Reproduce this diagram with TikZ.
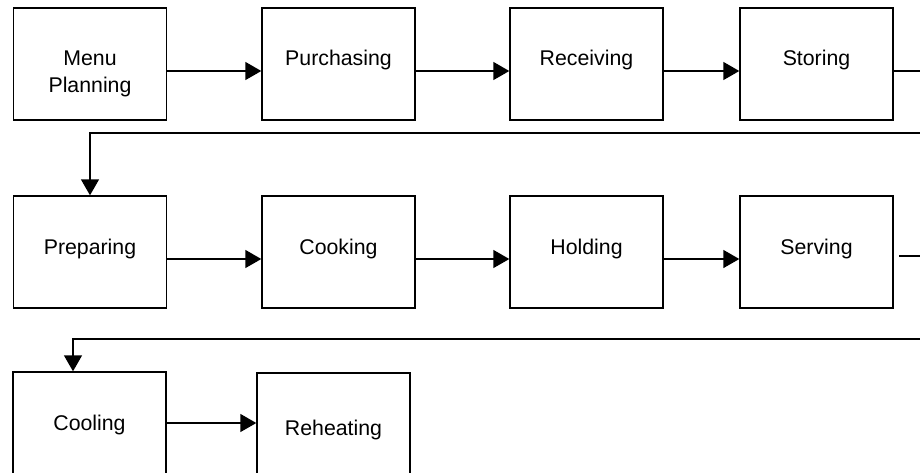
\documentclass[tikz,border=0pt]{standalone}
\usepackage{fontspec}
\setmainfont{Liberation Sans}
\usetikzlibrary{arrows.meta}
\begin{document}
\begin{tikzpicture}[x=1pt,y=-1pt,
  box/.style={draw=black,line width=1.4pt,minimum width=153pt,minimum height=112pt,inner sep=0pt,fill=white},
  lbl/.style={font=\fontsize{21.3pt}{27pt}\selectfont,align=center,inner sep=0pt,text height=0.72em,text depth=0.2em},
  link/.style={line width=1.4pt},
  flow/.style={link,-{Triangle[length=16pt,width=18pt]}}]
\clip (0,0) rectangle (920,472);
\fill[white] (0,0) rectangle (920,472);

% first row
\node[box] (mp) at (90,64) {};
\node[box] (pu) at (338.5,64) {};
\node[box] (re) at (586.5,64) {};
\node[box] (st) at (816.5,64) {};
\node[lbl] (tmp) at (90,90) {Menu\\Planning};
\node[lbl] (tpu) at (338.5,63) {Purchasing};
\node[lbl] (tre) at (586.5,63) {Receiving};
\node[lbl] (tst) at (816.5,63) {Storing};

% second row
\node[box] (pr) at (90,252) {};
\node[box] (co) at (338.5,252) {};
\node[box] (ho) at (586.5,252) {};
\node[box] (se) at (816.5,252) {};
\node[lbl] (tpr) at (90,252) {Preparing};
\node[lbl] (tco) at (338.5,252) {Cooking};
\node[lbl] (tho) at (586.5,252) {Holding};
\node[lbl] (tse) at (816.5,252) {Serving};

% third row
\node[box] (cl) at (89.5,428) {};
\node[box] (rh) at (333.5,429) {};
\node[lbl] (tcl) at (89.5,428) {Cooling};
\node[lbl] (trh) at (333.5,433) {Reheating};

% row connectors
\coordinate (a1) at (0,71);
\draw[flow] (mp.east |- a1) -- (pu.west |- a1);
\draw[flow] (pu.east |- a1) -- (re.west |- a1);
\draw[flow] (re.east |- a1) -- (st.west |- a1);

\coordinate (a2) at (0,259);
\draw[flow] (pr.east |- a2) -- (co.west |- a2);
\draw[flow] (co.east |- a2) -- (ho.west |- a2);
\draw[flow] (ho.east |- a2) -- (se.west |- a2);

\coordinate (a3) at (0,423);
\draw[flow] (cl.east |- a3) -- (rh.west |- a3);

% wrap-around connectors
\coordinate (e1) at (920,71);
\coordinate (w1) at (920,133);
\coordinate (d1) at (90,133);
\draw[link] (st.east |- e1) -- (e1);
\draw[flow] (w1) -- (d1) -- (pr.north);

\coordinate (s2) at (899,256);
\coordinate (e2) at (920,256);
\coordinate (w2) at (920,339);
\coordinate (d2) at (73,339);
\draw[link] (s2) -- (e2);
\draw[flow] (w2) -- (d2) -- (d2 |- cl.north);
\end{tikzpicture}
\end{document}
